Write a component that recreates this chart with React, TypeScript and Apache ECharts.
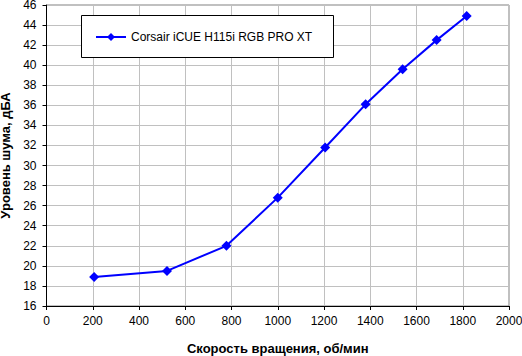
import React, { useEffect, useRef } from "react";
import * as echarts from "echarts";

const seriesName = "Corsair iCUE H115i RGB PRO XT";
const rpm = [206, 521, 778, 1000, 1205, 1380, 1540, 1687, 1817];
const noise = [18.9, 19.5, 22.0, 26.8, 31.8, 36.1, 39.6, 42.5, 44.9];
const xTitle = "Скорость вращения, об/мин";
const yTitle = "Уровень шума, дБА";

export default function App() {
  const ref = useRef<HTMLDivElement>(null);
  useEffect(() => {
    if (!ref.current) return;
    const chart = echarts.init(ref.current, undefined, { renderer: "svg" });
    const font = "Liberation Sans, Arial, sans-serif";
    chart.setOption({
      animation: false,
      backgroundColor: "#ffffff",
      textStyle: { fontFamily: font },
      grid: {
        left: 46.5,
        right: 13,
        top: 5,
        bottom: 50,
        containLabel: false,
        outerBoundsMode: "none",
        show: true,
        borderColor: "#808080",
        borderWidth: 1,
        backgroundColor: "transparent",
      },
      graphic: [
        {
          type: "rect",
          z: 50,
          shape: { x: 81.5, y: 15.5, width: 252, height: 42 },
          style: { fill: "#ffffff", stroke: "#000000", lineWidth: 1 },
        },
      ],
      legend: {
        z: 60,
        left: 95,
        top: 31,
        padding: 0,
        itemWidth: 30,
        itemHeight: 10,
        itemGap: 4,
        textStyle: { fontFamily: font, fontSize: 12, color: "#000" },
        data: [seriesName],
      },
      xAxis: {
        type: "value",
        min: 0,
        max: 2000,
        interval: 200,
        name: xTitle,
        nameLocation: "middle",
        nameGap: 36,
        nameTextStyle: { fontFamily: font, fontSize: 13, fontWeight: "bold", color: "#000" },
        axisLine: { show: true, lineStyle: { color: "#000", width: 1 } },
        axisTick: { show: true, inside: false, length: 4, lineStyle: { color: "#000" } },
        axisLabel: { fontFamily: font, fontSize: 12, color: "#000", margin: 9, formatter: (v: number) => String(v) },
        splitLine: { show: true, lineStyle: { color: "#c0c0c0", width: 1 } },
      },
      yAxis: {
        type: "value",
        min: 16,
        max: 46,
        interval: 2,
        name: yTitle,
        nameLocation: "middle",
        nameGap: 33,
        nameRotate: 90,
        nameTextStyle: { fontFamily: font, fontSize: 13, fontWeight: "bold", color: "#000" },
        axisLine: { show: true, lineStyle: { color: "#000", width: 1 } },
        axisTick: { show: true, inside: false, length: 4, lineStyle: { color: "#000" } },
        axisLabel: { fontFamily: font, fontSize: 12, color: "#000", margin: 10, formatter: (v: number) => String(v) },
        splitLine: { show: true, lineStyle: { color: "#c0c0c0", width: 1 } },
      },
      series: [
        {
          name: seriesName,
          type: "line",
          data: rpm.map((x, i) => [x, noise[i]]),
          symbol: "diamond",
          symbolSize: 10,
          lineStyle: { color: "#0000ff", width: 2 },
          itemStyle: { color: "#0000ff" },
          z: 3,
        },
      ],
    });
    return () => chart.dispose();
  }, []);
  return <div ref={ref} style={{ width: 522, height: 356, position: "absolute", left: 0, top: 0 }} />;
}
